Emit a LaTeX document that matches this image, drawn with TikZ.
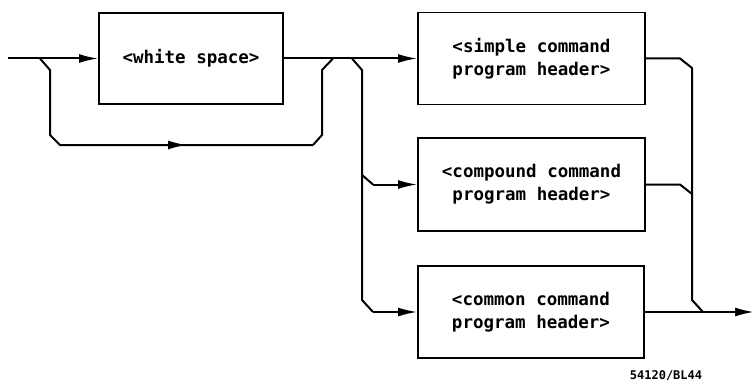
\documentclass[tikz,border=0pt]{standalone}
\usepackage{fontspec}
\setmonofont{DejaVu Sans Mono}
\usetikzlibrary{arrows.meta}
\begin{document}
\begin{tikzpicture}[x=1pt,y=-1pt,
  line/.style={line width=2pt},
  arr/.style={line, -{Latex[length=19pt,width=9pt]}},
  synbox/.style={draw, line width=1.8pt, rectangle, inner sep=0pt, align=center,
    font=\ttfamily\bfseries\fontsize{17.5}{23}\selectfont},
  lbl/.style={font=\ttfamily\bfseries\fontsize{12}{14}\selectfont, inner sep=0pt}]
\useasboundingbox (0,0) rectangle (754,385);
\node[synbox, minimum width=184pt, minimum height=91pt] (ws) at (191,58.5) {<white space>};
\node[synbox, minimum width=227pt, minimum height=92pt] (simple) at (531.5,58.5) {<simple command\\program header>};
\node[synbox, minimum width=227pt, minimum height=93pt] (compound) at (531.5,184.5) {<compound command\\program header>};
\node[synbox, minimum width=226pt, minimum height=92pt] (common) at (531,312) {<common command\\program header>};
\node[lbl] (tag) at (666,376) {54120/BL44};
% coordinates
\coordinate (start) at (8,58.5);
\coordinate (bA) at (40,58.5);
\coordinate (bB) at (50,70);
\coordinate (bC) at (50,135);
\coordinate (bD) at (60,145);
\coordinate (bM) at (187,145);
\coordinate (bE) at (313,145);
\coordinate (bF) at (322,135);
\coordinate (bG) at (322,70);
\coordinate (bH) at (333,58.5);
\coordinate (rA) at (352,58.5);
\coordinate (rB) at (362,70);
\coordinate (rC) at (362,175);
\coordinate (rD) at (373,184.5);
\coordinate (rE) at (362,300);
\coordinate (rF) at (373,312);
\coordinate (sA) at (680,58.5);
\coordinate (sB) at (692,68);
\coordinate (sC) at (692,300);
\coordinate (sD) at (703,312);
\coordinate (cA) at (680,184.5);
\coordinate (cB) at (692,194);
\coordinate (finish) at (754,312);
% connectors
\draw[arr] (start) -- (ws.west);
\draw[line] (bA) -- (bB) -- (bC) -- (bD) -- (bE);
\draw[arr] (bD) -- (bM);
\draw[line] (bE) -- (bF) -- (bG) -- (bH);
\draw[arr] (ws.east) -- (simple.west);
\draw[line] (rA) -- (rB) -- (rE) -- (rF);
\draw[line] (rC) -- (rD);
\draw[arr] (rD) -- (compound.west);
\draw[arr] (rF) -- (common.west);
\draw[line] (simple.east) -- (sA) -- (sB) -- (sC) -- (sD);
\draw[line] (compound.east) -- (cA) -- (cB);
\draw[arr] (common.east) -- (finish);
\end{tikzpicture}
\end{document}
